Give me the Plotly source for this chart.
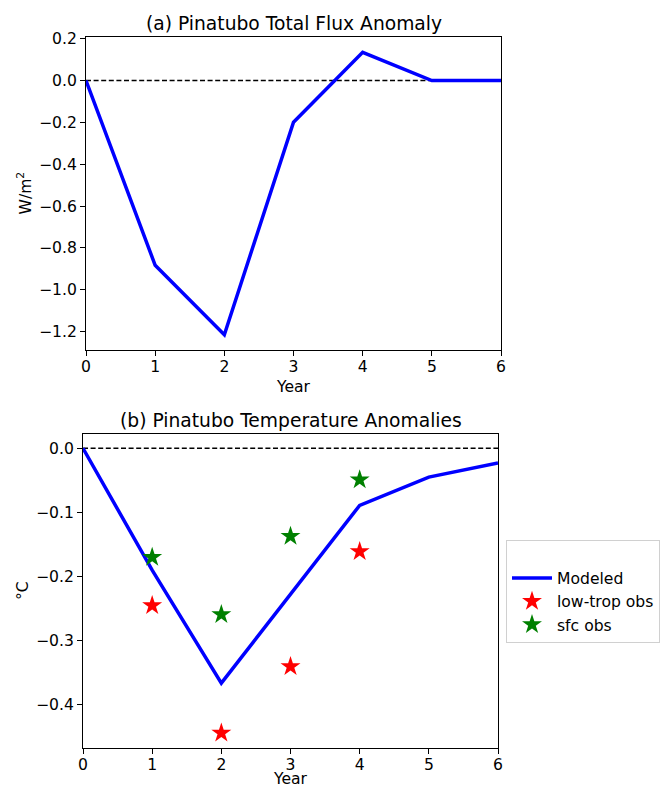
import plotly.graph_objects as go

# Annual anomalies following the Pinatubo eruption
years = [0, 1, 2, 3, 4, 5, 6]
flux_anomaly = [0.0, -0.883, -1.215, -0.199, 0.135, 0.0, 0.0]
temp_modeled = [0.0, -0.19, -0.366, -0.228, -0.089, -0.045, -0.023]

obs_years = [1, 2, 3, 4]
low_trop_obs = [-0.245, -0.444, -0.340, -0.161]
sfc_obs = [-0.170, -0.259, -0.137, -0.049]

W, H = 660, 787
FONT = "DejaVu Sans"
TICK_SIZE = 15.6
LABEL_SIZE = 15.6
TITLE_SIZE = 18.7
DASH = "5px,2.6px"

# axes boxes in pixels: (left, right, top, bottom)
box_a = (86, 501, 37, 350)
box_b = (83, 498, 434, 748)


def px(x):
    return x / W


def py(y):
    return 1 - y / H


def xdom(b):
    return [px(b[0]), px(b[1])]


def ydom(b):
    return [py(b[3]), py(b[2])]


fig = go.Figure()

# (a) total flux anomaly
fig.add_trace(go.Scatter(x=[0, 6], y=[0, 0], mode="lines",
                         line=dict(color="black", width=1.5, dash=DASH),
                         xaxis="x", yaxis="y", showlegend=False, hoverinfo="skip"))
fig.add_trace(go.Scatter(x=years, y=flux_anomaly, mode="lines",
                         line=dict(color="blue", width=3.5),
                         xaxis="x", yaxis="y", showlegend=False))

# (b) temperature anomalies
fig.add_trace(go.Scatter(x=[0, 6], y=[0, 0], mode="lines",
                         line=dict(color="black", width=1.5, dash=DASH),
                         xaxis="x2", yaxis="y2", showlegend=False, hoverinfo="skip"))
fig.add_trace(go.Scatter(x=years, y=temp_modeled, mode="lines", name="Modeled",
                         line=dict(color="blue", width=3.5),
                         xaxis="x2", yaxis="y2"))
fig.add_trace(go.Scatter(x=obs_years, y=low_trop_obs, mode="markers", name="low-trop obs",
                         marker=dict(symbol="star", color="red", size=15, line=dict(width=0)),
                         xaxis="x2", yaxis="y2"))
fig.add_trace(go.Scatter(x=obs_years, y=sfc_obs, mode="markers", name="sfc obs",
                         marker=dict(symbol="star", color="green", size=15, line=dict(width=0)),
                         xaxis="x2", yaxis="y2"))

axis_common = dict(showgrid=False, zeroline=False, showline=True, linecolor="black",
                   linewidth=1, mirror=True, ticks="outside", ticklen=5, tickwidth=1,
                   tickcolor="black", automargin=False,
                   tickfont=dict(family=FONT, size=TICK_SIZE, color="black"))
xaxis_common = dict(range=[0, 6], dtick=1, ticklabelstandoff=-3, **axis_common)

text_font = dict(family=FONT, color="black")

annotations = [
    dict(text="(a) Pinatubo Total Flux Anomaly", x=px((box_a[0] + box_a[1]) / 2), y=py(23),
         font=dict(size=TITLE_SIZE, **text_font)),
    dict(text="(b) Pinatubo Temperature Anomalies", x=px((box_b[0] + box_b[1]) / 2), y=py(420),
         font=dict(size=TITLE_SIZE, **text_font)),
    dict(text="Year", x=px((box_a[0] + box_a[1]) / 2), y=py(387),
         font=dict(size=LABEL_SIZE, **text_font)),
    dict(text="Year", x=px((box_b[0] + box_b[1]) / 2), y=py(779),
         font=dict(size=LABEL_SIZE, **text_font)),
    dict(text="W/m<sup>2</sup>", x=px(25), y=py((box_a[2] + box_a[3]) / 2), textangle=-90,
         font=dict(size=LABEL_SIZE, **text_font)),
    dict(text="°C", x=px(23), y=py((box_b[2] + box_b[3]) / 2), textangle=-90,
         font=dict(size=LABEL_SIZE, **text_font)),
]
for a in annotations:
    a.update(xref="paper", yref="paper", showarrow=False, xanchor="center", yanchor="middle")

fig.update_layout(
    width=W, height=H,
    margin=dict(l=0, r=0, t=0, b=0),
    plot_bgcolor="white", paper_bgcolor="white",
    font=dict(family=FONT, color="black"),
    xaxis=dict(domain=xdom(box_a), anchor="y", **xaxis_common),
    yaxis=dict(domain=ydom(box_a), anchor="x", range=[-1.288, 0.208], dtick=0.2, tick0=0,
               tickformat=".1f", **axis_common),
    xaxis2=dict(domain=xdom(box_b), anchor="y2", **xaxis_common),
    yaxis2=dict(domain=ydom(box_b), anchor="x2", range=[-0.4672, 0.0222], dtick=0.1, tick0=0,
                tickformat=".1f", **axis_common),
    legend=dict(x=px(506), y=py(540), xanchor="left", yanchor="top",
                bgcolor="white", bordercolor="#d0d0d0", borderwidth=1,
                font=dict(family=FONT, size=LABEL_SIZE, color="black"),
                title=dict(text=" ", font=dict(size=LABEL_SIZE)),
                itemwidth=40, tracegroupgap=0),
    annotations=annotations,
)

fig.write_html("out.html")
